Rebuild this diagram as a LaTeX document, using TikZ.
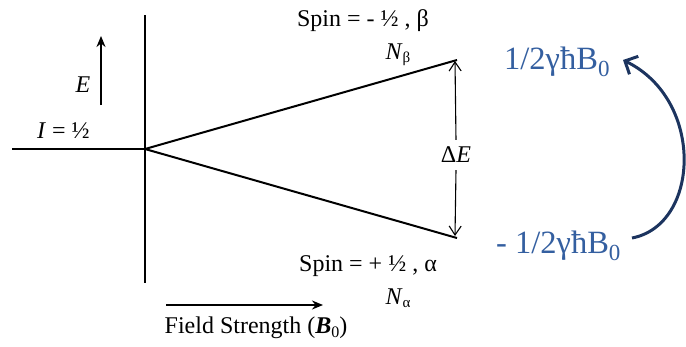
\documentclass[tikz,border=0pt]{standalone}
\usepackage{fontspec}
\setmainfont{Liberation Serif}
\usetikzlibrary{arrows.meta}
\definecolor{bluetxt}{RGB}{52,95,160}
\definecolor{navy}{RGB}{28,52,95}
\begin{document}
\begin{tikzpicture}[x=1pt,y=-1pt,
  lbl/.style={inner sep=0pt,font=\fontsize{24}{26}\selectfont},
  blbl/.style={inner sep=0pt,text=bluetxt,font=\fontsize{32.5}{35}\selectfont},
  thickline/.style={line width=2pt},
  thinarrow/.style={line width=1.1pt,-{Straight Barb[length=9pt,width=12pt,line width=1.1pt]}},
  axarrow/.style={line width=2pt,-{Stealth[length=11pt,width=9pt]}}]
\useasboundingbox (0,0) rectangle (686,346);
% coordinates
\coordinate (vtop) at (145,15);
\coordinate (vbot) at (145,283);
\coordinate (o) at (145,149);
\coordinate (hl) at (12,149);
\coordinate (up) at (457,60);
\coordinate (lo) at (457,238);
\coordinate (e0) at (101,105);
\coordinate (e1) at (101,36);
\coordinate (f0) at (166,305);
\coordinate (f1) at (323,305);
\coordinate (dtop) at (455,61);
\coordinate (dbot) at (455,236);
\coordinate (cs) at (632,238);
\coordinate (ct) at (623,60);
% lines
\draw[thickline] (vtop) -- (vbot);
\draw[thickline] (hl) -- (o);
\draw[thickline] (o) -- (up);
\draw[thickline] (o) -- (lo);
\draw[axarrow] (e0) -- (e1);
\draw[axarrow] (f0) -- (f1);
% labels
\node[lbl] (E) at (83,85) {\textit{E}};
\node[lbl,anchor=west] (I) at (37,131) {\textit{I} = ½};
\node[lbl] (sb) at (363,21) {Spin = - ½ , β};
\node[lbl] (nb) at (398,55) {\textit{N}\raisebox{-0.3ex}{\fontsize{15}{15}\selectfont β}};
\node[lbl] (dE) at (456,155) {Δ\textit{E}};
\node[lbl] (sa) at (368,266) {Spin = + ½ , α};
\node[lbl] (na) at (398,298) {\textit{N}\raisebox{-0.3ex}{\fontsize{15}{15}\selectfont α}};
\node[lbl] (fs) at (256,328) {Field Strength (\textbf{\textit{B}}\raisebox{-0.3ex}{\fontsize{16}{16}\selectfont 0})};
\draw[thinarrow] (dE.north) ++(0,-7) coordinate (dEn) -- (dtop);
\draw[thinarrow] (dE.south) ++(0,7) coordinate (dEs) -- (dbot);
\node[blbl,anchor=west] (hi) at (504,62) {1/2γħB\raisebox{-0.45ex}{\fontsize{23}{25}\selectfont 0}};
\node[blbl,anchor=west] (lo2) at (496,246) {- 1/2γħB\raisebox{-0.45ex}{\fontsize{23}{25}\selectfont 0}};
\draw[navy,line width=3pt,-{Straight Barb[length=10pt,width=20pt,line width=3pt]}]
  (cs) .. controls (700,225) and (705,100) .. (ct);
\end{tikzpicture}
\end{document}
